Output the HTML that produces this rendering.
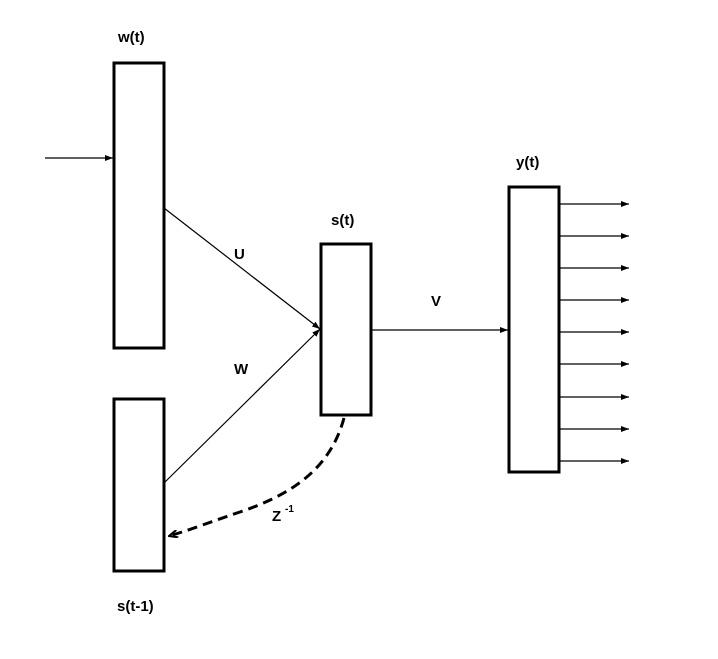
<!DOCTYPE html>
<html><head><style>body{margin:0;background:#fff}</style></head><body>
<svg width="718" height="654" xmlns="http://www.w3.org/2000/svg" font-family="Liberation Sans, sans-serif" font-weight="bold" font-size="15">
<defs><marker id="a" markerWidth="8" markerHeight="6" refX="8" refY="3" orient="auto" markerUnits="userSpaceOnUse"><path d="M0,0 L8,3 L0,6 Z" fill="#000"/></marker>
<marker id="b" markerWidth="10" markerHeight="8" refX="9" refY="4" orient="auto" markerUnits="userSpaceOnUse"><path d="M0,0 L9,4 L0,8" fill="none" stroke="#000" stroke-width="2"/></marker></defs>
<g fill="none" stroke="#000" stroke-width="3">
<rect x="114" y="63" width="50" height="285"/>
<rect x="114" y="399" width="50" height="172"/>
<rect x="321" y="244" width="50" height="171"/>
<rect x="509" y="187" width="50" height="285"/>
</g>
<g stroke="#000" stroke-width="1.2" fill="none">
<line x1="45" y1="158" x2="113" y2="158" marker-end="url(#a)"/>
<line x1="164" y1="208" x2="320" y2="329" marker-end="url(#a)"/>
<line x1="164" y1="483" x2="320" y2="329" marker-end="url(#a)"/>
<line x1="371" y1="330" x2="508" y2="330" marker-end="url(#a)"/>
<line x1="559" y1="204" x2="629" y2="204" marker-end="url(#a)"/>
<line x1="559" y1="236" x2="629" y2="236" marker-end="url(#a)"/>
<line x1="559" y1="268" x2="629" y2="268" marker-end="url(#a)"/>
<line x1="559" y1="300" x2="629" y2="300" marker-end="url(#a)"/>
<line x1="559" y1="332" x2="629" y2="332" marker-end="url(#a)"/>
<line x1="559" y1="364" x2="629" y2="364" marker-end="url(#a)"/>
<line x1="559" y1="397" x2="629" y2="397" marker-end="url(#a)"/>
<line x1="559" y1="429" x2="629" y2="429" marker-end="url(#a)"/>
<line x1="559" y1="461" x2="629" y2="461" marker-end="url(#a)"/>
</g>
<path d="M344,418 C330,470 290,495 240,512 C210,522 190,530 169,536" fill="none" stroke="#000" stroke-width="3" stroke-dasharray="10,6" marker-end="url(#b)"/>
<text x="118" y="42">w(t)</text>
<text x="331" y="225">s(t)</text>
<text x="516" y="167">y(t)</text>
<text x="117" y="611">s(t-1)</text>
<text x="234" y="259">U</text>
<text x="234" y="374">W</text>
<text x="431" y="306">V</text>
<text x="272" y="521">Z</text><text x="285" y="512" font-size="10">-1</text>
</svg>
</body></html>
